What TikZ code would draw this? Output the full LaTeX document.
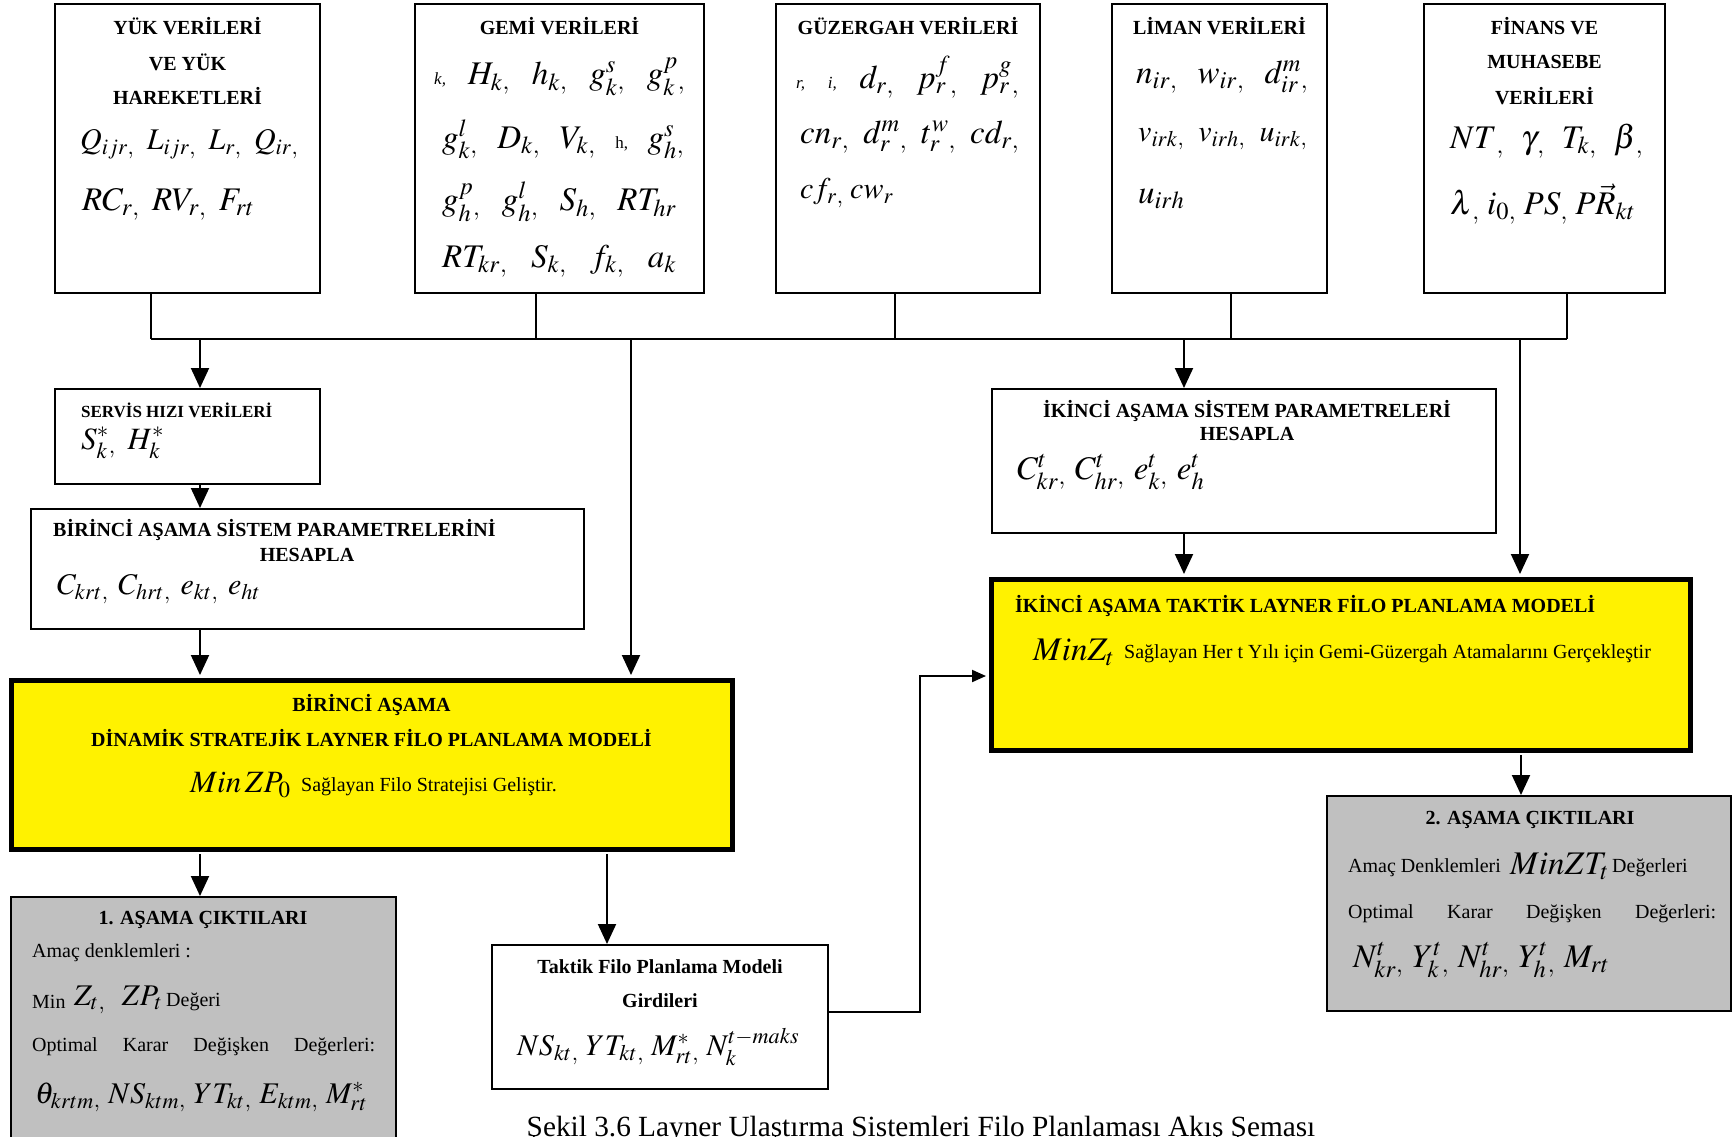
\documentclass[tikz,border=0pt]{standalone}
\usepackage{mathptmx}
\usepackage[no-math]{fontspec}
\setmainfont{Liberation Serif}
\usetikzlibrary{arrows.meta}
\definecolor{grayfill}{HTML}{C0C0C0}
\newcommand{\cma}{{}_{,}}
\newcommand{\mrow}[2]{\makebox[#1][s]{#2}}
\newcommand{\sml}{\fontsize{17}{20}\selectfont}
\tikzset{
 box/.style={draw, line width=2pt, inner sep=0},
 ybox/.style={draw, line width=5pt, fill=yellow, inner sep=0},
 gbox/.style={draw, line width=2pt, fill=grayfill, inner sep=0},
 ttl/.style={font=\fontsize{20}{24}\selectfont\bfseries, inner sep=0},
 txt/.style={font=\fontsize{20}{24}\selectfont, inner sep=0},
 mth/.style={font=\fontsize{33}{38}\selectfont, inner sep=0, anchor=west},
 mths/.style={mth, font=\fontsize{30}{36}\selectfont},
 ln/.style={line width=2pt},
 arr/.style={line width=2pt, -{Triangle[length=20pt,width=18pt]}},
 sarr/.style={line width=2pt, -{Triangle[length=14pt,width=12pt]}},
}
\begin{document}
\begin{tikzpicture}[x=1pt,y=-1pt]
\useasboundingbox (0,0) rectangle (1733,1136);
\clip (0,0) rectangle (1733,1136);
% boxes
\node[box, minimum width=265pt, minimum height=289pt] (yuk) at (187.5,148.5) {};
\node[box, minimum width=289pt, minimum height=289pt] (gemi) at (559.5,148.5) {};
\node[box, minimum width=264pt, minimum height=289pt] (guz) at (908,148.5) {};
\node[box, minimum width=215pt, minimum height=289pt] (liman) at (1219.5,148.5) {};
\node[box, minimum width=241pt, minimum height=289pt] (fin) at (1544.5,148.5) {};
\node[box, minimum width=265pt, minimum height=95pt] (servis) at (187.5,436.5) {};
\node[box, minimum width=553pt, minimum height=120pt] (bp) at (307.5,569) {};
\node[ybox, minimum width=721pt, minimum height=169pt] (by) at (371.5,764.5) {};
\node[box, minimum width=504pt, minimum height=144pt] (ip) at (1244,461) {};
\node[ybox, minimum width=699pt, minimum height=171pt] (iy) at (1340.5,664.5) {};
\node[gbox, minimum width=385pt, minimum height=253pt] (o1) at (203.5,1023.5) {};
\node[box, minimum width=336pt, minimum height=144pt] (tk) at (660,1017) {};
\node[gbox, minimum width=404pt, minimum height=215pt] (o2) at (1529,903.5) {};
% bus
\coordinate (b1) at (151,339);
\coordinate (b2) at (536,339);
\coordinate (b3) at (895,339);
\coordinate (b4) at (1231,339);
\coordinate (b5) at (1567,339);
\draw[ln] (yuk.south -| b1) -- (b1);
\draw[ln] (gemi.south -| b2) -- (b2);
\draw[ln] (guz.south -| b3) -- (b3);
\draw[ln] (liman.south -| b4) -- (b4);
\draw[ln] (fin.south -| b5) -- (b5);
\draw[ln] (b1) -- (b5);
\coordinate (d1) at (200,339);
\coordinate (d2) at (631,339);
\coordinate (d3) at (1184,339);
\coordinate (d4) at (1520,339);
\draw[arr] (d1) -- (d1 |- servis.north);
\draw[arr] (servis.south -| d1) -- (bp.north -| d1);
\draw[arr] (bp.south -| d1) -- ([yshift=2.5pt]by.north -| d1);
\draw[arr] (d2) -- ([yshift=2.5pt]by.north -| d2);
\draw[arr] (d3) -- (d3 |- ip.north);
\draw[arr] (ip.south -| d3) -- ([yshift=2.5pt]iy.north -| d3);
\draw[arr] (d4) -- ([yshift=2.5pt]iy.north -| d4);
\draw[arr] ([yshift=-2.5pt]by.south -| d1) -- (o1.north -| d1);
\coordinate (d5) at (607,849);
\draw[arr] ([yshift=-2.5pt]by.south -| d5) -- (tk.north -| d5);
\coordinate (k1) at (920,1012);
\coordinate (k2) at (920,676);
\draw[sarr] (tk.east |- k1) -- (k1) -- (k2) -- ([xshift=-2.5pt]iy.west |- k2);
\coordinate (d6) at (1521,750);
\draw[arr] ([yshift=-2.5pt]iy.south -| d6) -- (o2.north -| d6);
% YUK
\node[ttl] (t1a) at (187.5,26) {YÜK VERİLERİ};
\node[ttl] (t1b) at (187.5,62) {VE YÜK};
\node[ttl] (t1c) at (187.5,96) {HAREKETLERİ};
\node[mths] (m1a) at (80,144) {\mrow{218pt}{$Q_{ijr}\cma$\hfill$L_{ijr}\cma$\hfill$L_r\cma$\hfill$Q_{ir}\cma$}};
\node[mth] (m1b) at (82,204) {\mrow{172pt}{$RC_r\cma$\hfill$RV_r\cma$\hfill$F_{rt}$}};
% GEMI
\node[ttl] (t2a) at (559.5,26) {GEMİ VERİLERİ};
\node[mth] (m2a) at (434,77) {\mrow{251pt}{{\sml\itshape k,}\hfill$H_k\cma$\hfill$h_k\cma$\hfill$g_k^s\cma$\hfill$g_k^p\cma$}};
\node[mth] (m2b) at (442,139) {\mrow{242pt}{$g_k^l\cma$\hfill$D_k\cma$\hfill$V_k\cma$\hfill{\sml h,}\hfill$g_h^s\cma$}};
\node[mth] (m2c) at (442,202) {\mrow{234pt}{$g_h^p\cma$\hfill$g_h^l\cma$\hfill$S_h\cma$\hfill$RT_{hr}$}};
\node[mth] (m2d) at (442,261) {\mrow{234pt}{$RT_{kr}\cma$\hfill$S_k\cma$\hfill$f_k\cma$\hfill$a_k$}};
% GUZERGAH
\node[ttl] (t3a) at (908,26) {GÜZERGAH VERİLERİ};
\node[mth] (m3a) at (796,77) {\mrow{223pt}{{\sml\itshape r,}\hfill{\sml\itshape i,}\hfill$d_r\cma$\hfill$p_r^f\cma$\hfill$p_r^g\cma$}};
\node[mth] (m3b) at (800,137) {\mrow{219pt}{$cn_r\cma$\hfill$d_r^m\cma$\hfill$t_r^w\cma$\hfill$cd_r\cma$}};
\node[mths] (m3c) at (800,193) {\mrow{93pt}{$cf_r\cma$\hfill$cw_r$}};
% LIMAN
\node[ttl] (t4a) at (1219.5,26) {LİMAN VERİLERİ};
\node[mth] (m4a) at (1136,77) {\mrow{172pt}{$n_{ir}\cma$\hfill$w_{ir}\cma$\hfill$d_{ir}^m\cma$}};
\node[mths] (m4b) at (1138,139) {\mrow{169pt}{$v_{irk}\cma$\hfill$v_{irh}\cma$\hfill$u_{irk}\cma$}};
\node[mth] (m4c) at (1138,199) {$u_{irh}$};
% FINANS
\node[ttl] (t5a) at (1544.5,26) {FİNANS VE};
\node[ttl] (t5b) at (1544.5,62) {MUHASEBE};
\node[ttl] (t5c) at (1544.5,96) {VERİLERİ};
\node[mth] (m5a) at (1450,141) {\mrow{193pt}{$NT\cma$\hfill$\gamma\cma$\hfill$T_k\cma$\hfill$\beta\cma$}};
\node[mth] (m5b) at (1450,204) {\mrow{185pt}{$\lambda\cma$\hfill$i_0\cma$\hfill$PS\cma$\hfill$P\vec{R}_{kt}$}};
% SERVIS
\node[ttl, font=\fontsize{17}{20}\selectfont\bfseries, anchor=west] (t6a) at (81,410) {SERVİS HIZI VERİLERİ};
\node[mth, font=\fontsize{31}{36}\selectfont] (m6a) at (81,443) {\mrow{83pt}{$S_k^*\cma$\hfill$H_k^*$}};
% BIRINCI PARAM
\node[ttl, anchor=west] (t7a) at (53,530) {BİRİNCİ AŞAMA SİSTEM PARAMETRELERİNİ};
\node[ttl] (t7b) at (307,555) {HESAPLA};
\node[mths] (m7a) at (57,589) {\mrow{203pt}{$C_{krt}\cma$\hfill$C_{hrt}\cma$\hfill$e_{kt}\cma$\hfill$e_{ht}$}};
% BIRINCI YELLOW
\node[ttl] (t8a) at (371.5,705) {BİRİNCİ AŞAMA};
\node[ttl] (t8b) at (371.5,738) {DİNAMİK STRATEJİK LAYNER FİLO PLANLAMA MODELİ};
\node[mth, font=\fontsize{31}{36}\selectfont] (m8a) at (190,785) {$Min\,ZP_0$};
\node[txt, anchor=west] (t8c) at (301,787) {Sağlayan Filo Stratejisi Geliştir.};
% IKINCI PARAM
\node[ttl] (t9a) at (1247,411) {İKİNCİ AŞAMA SİSTEM PARAMETRELERİ};
\node[ttl] (t9b) at (1247,434) {HESAPLA};
\node[mth] (m9a) at (1017,472) {\mrow{187pt}{$C^t_{kr}\cma$\hfill$C^t_{hr}\cma$\hfill$e^t_k\cma$\hfill$e^t_h$}};
% IKINCI YELLOW
\node[ttl, anchor=west] (t10a) at (1015,606) {İKİNCİ AŞAMA TAKTİK LAYNER FİLO PLANLAMA MODELİ};
\node[mth] (m10a) at (1033,652) {$MinZ_t$};
\node[txt, anchor=west] (t10b) at (1124,654) {Sağlayan Her t Yılı için Gemi-Güzergah Atamalarını Gerçekleştir};
% OUTPUT 1
\node[ttl] (t11a) at (203,920) {1. AŞAMA ÇIKTILARI};
\node[txt, anchor=west] (t11b) at (32,953) {Amaç denklemleri :};
\node[txt, anchor=west] (t11c) at (32,1002) {Min};
\node[mths] (m11c) at (74,1000) {\mrow{88pt}{$Z_t\cma$\hfill$ZP_t$}};
\node[txt, anchor=west] (t11e) at (166,1002) {Değeri};
\node[txt, anchor=west] (t11d) at (32,1047) {\makebox[343pt][s]{Optimal\hfill Karar\hfill Değişken\hfill Değerleri:}};
\node[mths] (m11a) at (35,1097) {\mrow{332pt}{$\theta_{krtm}\cma$\hfill$NS_{ktm}\cma$\hfill$YT_{kt}\cma$\hfill$E_{ktm}\cma$\hfill$M^*_{rt}$}};
% TAKTIK
\node[ttl] (t12a) at (660,967) {Taktik Filo Planlama Modeli};
\node[ttl] (t12b) at (660,1001) {Girdileri};
\node[mths] (m12a) at (517,1047) {\mrow{282pt}{$NS_{kt}\cma$\hfill$YT_{kt}\cma$\hfill$M^*_{rt}\cma$\hfill$N_k^{t-maks}$}};
% OUTPUT 2
\node[ttl] (t13a) at (1530,820) {2. AŞAMA ÇIKTILARI};
\node[txt, anchor=west] (t13b) at (1348,868) {Amaç Denklemleri};
\node[mth] (m13b) at (1510,866) {$MinZT_t$};
\node[txt, anchor=west] (t13d) at (1612,868) {Değerleri};
\node[txt, anchor=west] (t13c) at (1348,914) {\makebox[368pt][s]{Optimal\hfill Karar\hfill Değişken\hfill Değerleri:}};
\node[mth] (m13a) at (1353,960) {\mrow{256pt}{$N^t_{kr}\cma$\hfill$Y^t_k\cma$\hfill$N^t_{hr}\cma$\hfill$Y^t_h\cma$\hfill$M_{rt}$}};
% caption
\node[font=\fontsize{29.3}{34}\selectfont, anchor=base, inner sep=0] (cap) at (921,1136) {Şekil 3.6 Layner Ulaştırma Sistemleri Filo Planlaması Akış Şeması};
\end{tikzpicture}
\end{document}
